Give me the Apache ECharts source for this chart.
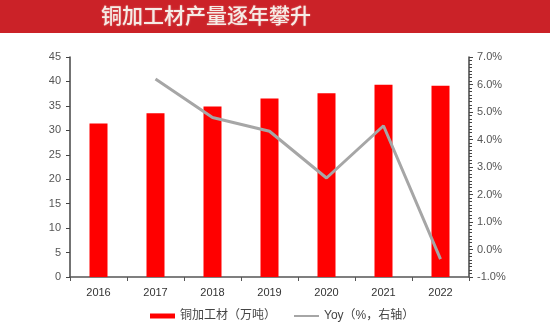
<!DOCTYPE html>
<html>
<head>
<meta charset="utf-8">
<script src="https://cdn.jsdelivr.net/npm/echarts@6/dist/echarts.min.js"></script>
<style>html,body{margin:0;padding:0;background:#fff;}#c{width:550px;height:330px;}</style>
</head>
<body>
<div id="c"></div>
<script>
var titleText = '铜加工材产量逐年攀升';
var years = ['2016', '2017', '2018', '2019', '2020', '2021', '2022'];
var output = [31.4, 33.5, 34.9, 36.5, 37.6, 39.3, 39.1];
var yoy = [null, 6.2, 4.8, 4.3, 2.6, 4.5, -0.35];
var barName = '铜加工材（万吨）';
var lineName = 'Yoy（%，右轴）';

var chart = echarts.init(document.getElementById('c'));
var font = 'Arial, "Liberation Sans", "Noto Sans CJK SC", sans-serif';
chart.setOption({
  animation: false,
  textStyle: { fontFamily: font },
  graphic: [
    { type: 'rect', shape: { x: 0, y: 0, width: 550, height: 33 }, style: { fill: '#CB2228' }, z: 0 },
    { type: 'text', left: 101, top: 5, style: { text: titleText, fill: '#F6ECE6', font: '500 21px "Noto Sans CJK SC", sans-serif', textShadowColor: 'rgba(255,255,255,0.4)', textShadowBlur: 2 } }
  ],
  grid: { left: 70, right: 81, top: 57, bottom: 53 },
  legend: {
    bottom: 3, left: 145,
    textStyle: { fontSize: 12, color: '#444', fontFamily: font },
    data: [
      { name: barName, icon: 'rect', itemStyle: { color: '#FF0000' } },
      { name: lineName, icon: 'path://M0,0 L1,0 L1,0.08 L0,0.08 Z' }
    ],
    itemWidth: 25, itemHeight: 5, itemGap: 18
  },
  xAxis: {
    type: 'category', data: years,
    axisLine: { lineStyle: { color: '#555', width: 1.5 } },
    axisTick: { show: true, alignWithLabel: false, length: 4, lineStyle: { color: '#555' } },
    axisLabel: { color: '#333', fontSize: 11, margin: 10 }
  },
  yAxis: [
    {
      type: 'value', min: 0, max: 45, interval: 5,
      axisLine: { show: true, lineStyle: { color: '#444', width: 1.5 } },
      axisTick: { show: true, length: 4, lineStyle: { color: '#444' } },
      axisLabel: { color: '#555', fontSize: 11, margin: 9 },
      splitLine: { show: false }
    },
    {
      type: 'value', min: -1, max: 7, interval: 1,
      axisLine: { show: true, lineStyle: { color: '#444', width: 1.5 } },
      axisTick: { show: true, length: 4, lineStyle: { color: '#444' } },
      minorTick: { show: true, splitNumber: 8, length: 3, lineStyle: { color: '#444' } },
      axisLabel: { color: '#555', fontSize: 11, margin: 8, formatter: function (v) { return v.toFixed(1) + '%'; } },
      splitLine: { show: false }
    }
  ],
  series: [
    { name: barName, type: 'bar', data: output, barWidth: 18, itemStyle: { color: '#FF0000' } },
    { name: lineName, type: 'line', yAxisIndex: 1, data: yoy, symbol: 'none', connectNulls: false,
      lineStyle: { color: '#A6A6A6', width: 3 }, itemStyle: { color: '#A6A6A6' } }
  ]
});
</script>
</body>
</html>
